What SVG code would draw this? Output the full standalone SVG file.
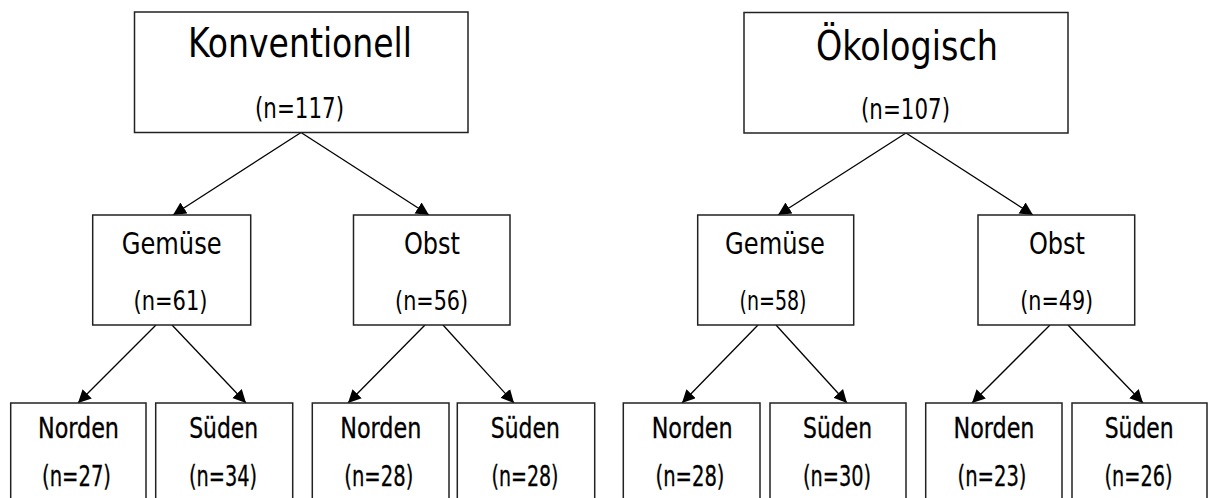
<svg xmlns="http://www.w3.org/2000/svg" width="1208" height="498" viewBox="0 0 1208 498">
<style>
.box{fill:#fff;stroke:#222;stroke-width:1.5}
.t{font-family:"Liberation Sans Narrow","DejaVu Sans Condensed","Liberation Sans",sans-serif;font-stretch:condensed;fill:#000;text-anchor:middle}
.big{font-size:41px}
.n1{font-size:29px}
.mid{font-size:30px}
.n2{font-size:26px}
.low{font-size:28px;stroke:#000;stroke-width:0.3}
.n3{font-size:29px;stroke:#000;stroke-width:0.3}
.c{stroke:#000;stroke-width:1.3;fill:none;marker-end:url(#ah)}
</style>
<defs>
<marker id="ah" markerUnits="userSpaceOnUse" markerWidth="14" markerHeight="14" refX="13" refY="6.5" orient="auto">
<path d="M0,0 L13,6.5 L0,13 z" fill="#000"/>
</marker>
</defs>
<rect width="1208" height="498" fill="#fff"/>
<g id="connectors">
<line class="c" x1="301" y1="132.5" x2="173" y2="215"/>
<line class="c" x1="301" y1="132.5" x2="429" y2="215"/>
<line class="c" x1="906" y1="133" x2="778" y2="215"/>
<line class="c" x1="906" y1="133" x2="1033" y2="215"/>
<line class="c" x1="156" y1="325" x2="78" y2="403"/>
<line class="c" x1="172" y1="325" x2="246" y2="403"/>
<line class="c" x1="425" y1="325" x2="348" y2="403"/>
<line class="c" x1="443" y1="325" x2="514" y2="403"/>
<line class="c" x1="758" y1="325" x2="682" y2="403"/>
<line class="c" x1="776" y1="325" x2="847" y2="403"/>
<line class="c" x1="1050" y1="325" x2="972" y2="403"/>
<line class="c" x1="1068" y1="325" x2="1143" y2="403"/>
</g>
<g id="konventionell">
<rect class="box" x="134.5" y="12" width="333.5" height="120.5"/>
<text class="t big" x="300" y="57" textLength="224" lengthAdjust="spacingAndGlyphs">Konventionell</text>
<text class="t n1" x="299.5" y="118" textLength="89" lengthAdjust="spacingAndGlyphs">(n=117)</text>
</g>
<g id="oekologisch">
<rect class="box" x="744" y="12.5" width="324" height="120.5"/>
<text class="t big" x="907" y="60" textLength="182" lengthAdjust="spacingAndGlyphs">Ökologisch</text>
<text class="t n1" x="905.5" y="119" textLength="89" lengthAdjust="spacingAndGlyphs">(n=107)</text>
</g>
<g id="k-gemuese">
<rect class="box" x="92.7" y="215" width="158" height="110"/>
<text class="t mid" x="171.7" y="254" textLength="100" lengthAdjust="spacingAndGlyphs">Gemüse</text>
<text class="t n2" x="170.5" y="310" textLength="74" lengthAdjust="spacingAndGlyphs">(n=61)</text>
</g>
<g id="k-obst">
<rect class="box" x="353.5" y="215" width="156.5" height="110"/>
<text class="t mid" x="432" y="253.5" textLength="56" lengthAdjust="spacingAndGlyphs">Obst</text>
<text class="t n2" x="431.6" y="310" textLength="73" lengthAdjust="spacingAndGlyphs">(n=56)</text>
</g>
<g id="o-gemuese">
<rect class="box" x="697.7" y="215" width="156" height="110"/>
<text class="t mid" x="775" y="254" textLength="100" lengthAdjust="spacingAndGlyphs">Gemüse</text>
<text class="t n2" x="773" y="310" textLength="67" lengthAdjust="spacingAndGlyphs">(n=58)</text>
</g>
<g id="o-obst">
<rect class="box" x="978" y="215" width="156.7" height="110"/>
<text class="t mid" x="1057" y="253.5" textLength="56" lengthAdjust="spacingAndGlyphs">Obst</text>
<text class="t n2" x="1056.7" y="310" textLength="73" lengthAdjust="spacingAndGlyphs">(n=49)</text>
</g>
<g id="k-g-norden">
<rect class="box" x="10.7" y="403" width="135.3" height="110"/>
<text class="t low" x="78.5" y="438" textLength="81" lengthAdjust="spacingAndGlyphs">Norden</text>
<text class="t n3" x="76.5" y="486" textLength="69" lengthAdjust="spacingAndGlyphs">(n=27)</text>
</g>
<g id="k-g-sueden">
<rect class="box" x="155.7" y="403" width="137" height="110"/>
<text class="t low" x="223.7" y="438" textLength="69" lengthAdjust="spacingAndGlyphs">Süden</text>
<text class="t n3" x="223" y="486" textLength="68" lengthAdjust="spacingAndGlyphs">(n=34)</text>
</g>
<g id="k-o-norden">
<rect class="box" x="312.3" y="403" width="136.7" height="110"/>
<text class="t low" x="380.8" y="438" textLength="81" lengthAdjust="spacingAndGlyphs">Norden</text>
<text class="t n3" x="378.8" y="486" textLength="69" lengthAdjust="spacingAndGlyphs">(n=28)</text>
</g>
<g id="k-o-sueden">
<rect class="box" x="457.3" y="403" width="137.4" height="110"/>
<text class="t low" x="525.3" y="438" textLength="69" lengthAdjust="spacingAndGlyphs">Süden</text>
<text class="t n3" x="525" y="486" textLength="67" lengthAdjust="spacingAndGlyphs">(n=28)</text>
</g>
<g id="o-g-norden">
<rect class="box" x="623.3" y="403" width="136.7" height="110"/>
<text class="t low" x="692.2" y="438" textLength="81" lengthAdjust="spacingAndGlyphs">Norden</text>
<text class="t n3" x="690" y="486" textLength="69" lengthAdjust="spacingAndGlyphs">(n=28)</text>
</g>
<g id="o-g-sueden">
<rect class="box" x="770" y="403" width="136" height="110"/>
<text class="t low" x="837.5" y="438" textLength="69" lengthAdjust="spacingAndGlyphs">Süden</text>
<text class="t n3" x="837" y="486" textLength="68" lengthAdjust="spacingAndGlyphs">(n=30)</text>
</g>
<g id="o-o-norden">
<rect class="box" x="925.7" y="403" width="136.3" height="110"/>
<text class="t low" x="994" y="438" textLength="81" lengthAdjust="spacingAndGlyphs">Norden</text>
<text class="t n3" x="992" y="486" textLength="69" lengthAdjust="spacingAndGlyphs">(n=23)</text>
</g>
<g id="o-o-sueden">
<rect class="box" x="1072" y="403" width="135" height="110"/>
<text class="t low" x="1139.2" y="438" textLength="69" lengthAdjust="spacingAndGlyphs">Süden</text>
<text class="t n3" x="1138.5" y="486" textLength="68" lengthAdjust="spacingAndGlyphs">(n=26)</text>
</g>
</svg>
